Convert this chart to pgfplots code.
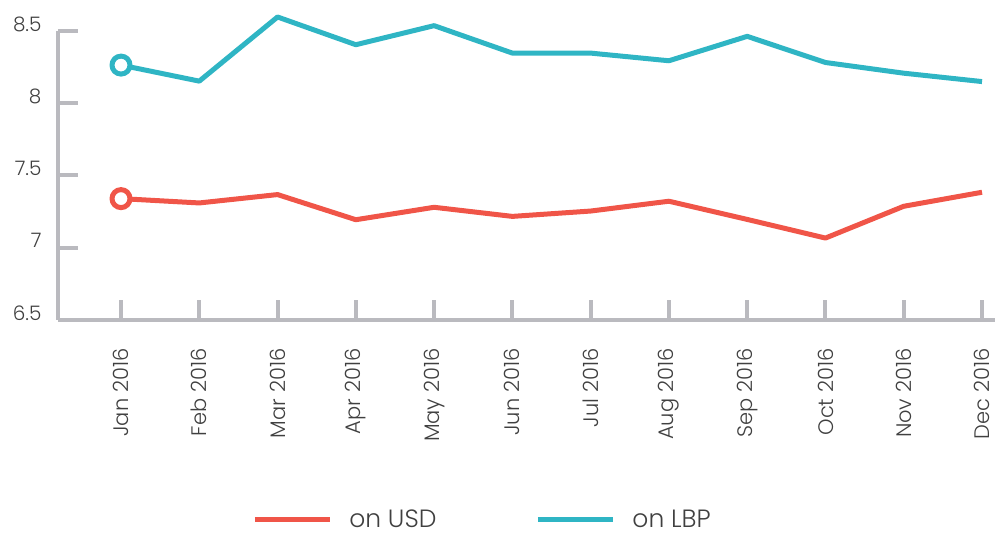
\documentclass[border=0pt]{standalone}
\usepackage{fontspec}
\setmainfont{Poppins Light}
\usepackage{pgfplots}
\pgfplotsset{compat=1.18}

\definecolor{usdred}{RGB}{240,85,72}
\definecolor{lbpteal}{RGB}{47,181,196}
\definecolor{axgrey}{RGB}{186,186,191}
\definecolor{txtgrey}{RGB}{64,64,64}

\begin{document}
\begin{tikzpicture}
\begin{axis}[
	scale only axis,
	width=937pt, height=289pt,
	xmin=-0.805, xmax=11.166,
	ymin=6.5, ymax=8.5,
	clip=false,
	axis x line=bottom, axis y line=left,
	axis line style={-, axgrey, line width=4.5pt},
	tick align=inside,
	major tick length=20pt,
	tick style={axgrey, line width=4pt},
	xtick={0,...,11},
	xticklabels={Jan 2016,Feb 2016,Mar 2016,Apr 2016,May 2016,Jun 2016,Jul 2016,Aug 2016,Sep 2016,Oct 2016,Nov 2016,Dec 2016},
	ytick={6.5,7,7.5,8,8.5},
	yticklabels={6.5,7,7.5,8,8.5},
	/pgf/number format/assume math mode=true,
	xticklabel shift=25pt,
	yticklabel shift=13pt,
	xticklabel style={rotate=90, anchor=east, text=txtgrey, font=\fontsize{21}{24}\selectfont},
	yticklabel style={anchor=east, text=txtgrey, yshift=7pt, font=\fontsize{20}{23}\selectfont},
	legend columns=2,
	legend style={at={(0.4525,-0.69)}, anchor=center, draw=none, fill=none,
		font=\fontsize{25}{29}\selectfont, text=txtgrey,
		nodes={inner sep=1pt},
		/tikz/every odd column/.append style={column sep=16pt},
		/tikz/every even column/.append style={column sep=98pt}},
	legend image code/.code={\draw[#1, mark=none] (0pt,0pt) -- (75pt,0pt);},
	every axis plot/.append style={line width=5pt, line join=round},
]
\addplot[usdred, mark=*, mark indices={1}, mark size=9pt, mark options={fill=white, line width=5pt}]
	coordinates {(0,7.340) (1,7.310) (2,7.368) (3,7.194) (4,7.280) (5,7.217) (6,7.254) (7,7.322) (8,7.196) (9,7.067) (10,7.287) (11,7.384)};
\addplot[lbpteal, mark=*, mark indices={1}, mark size=9pt, mark options={fill=white, line width=5pt}]
	coordinates {(0,8.264) (1,8.153) (2,8.597) (3,8.405) (4,8.537) (5,8.347) (6,8.347) (7,8.294) (8,8.463) (9,8.282) (10,8.208) (11,8.150)};
\legend{on USD,on LBP}
\end{axis}
\pgfresetboundingbox
\path (-58pt,-217pt) rectangle (937pt,320pt);
\end{tikzpicture}
\end{document}
